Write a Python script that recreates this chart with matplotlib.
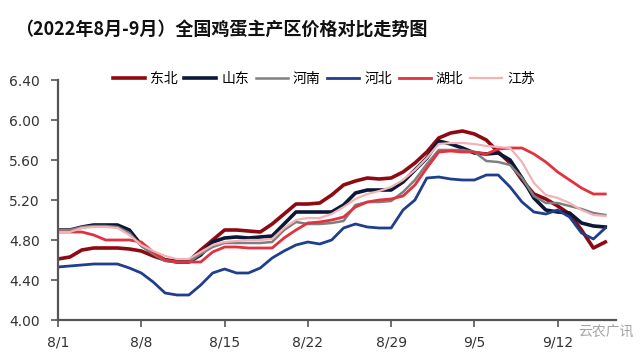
import matplotlib.pyplot as plt
import numpy as np

plt.rcParams['font.family'] = ['Noto Sans CJK SC', 'DejaVu Sans']

# daily prices, 8/1 .. 9/16 (yuan/jin)
dates = [f"8/{d}" for d in range(1, 32)] + [f"9/{d}" for d in range(1, 17)]

dongbei = [4.61, 4.63, 4.70, 4.72, 4.72, 4.72, 4.71, 4.69, 4.64, 4.60, 4.59, 4.59,
           4.70, 4.80, 4.90, 4.90, 4.89, 4.88, 4.96, 5.06, 5.16, 5.16, 5.17, 5.25,
           5.35, 5.39, 5.42, 5.41, 5.42, 5.48, 5.57, 5.68, 5.82, 5.87, 5.89, 5.86,
           5.80, 5.68, 5.57, 5.40, 5.26, 5.21, 5.14, 5.06, 4.90, 4.72, 4.78]
shandong = [4.90, 4.90, 4.93, 4.95, 4.95, 4.95, 4.90, 4.75, 4.67, 4.60, 4.58, 4.58,
            4.65, 4.78, 4.82, 4.83, 4.82, 4.83, 4.84, 4.96, 5.08, 5.08, 5.08, 5.08,
            5.15, 5.27, 5.30, 5.30, 5.30, 5.38, 5.50, 5.62, 5.79, 5.76, 5.72, 5.67,
            5.66, 5.67, 5.60, 5.42, 5.22, 5.10, 5.08, 5.07, 4.97, 4.94, 4.93]
henan = [4.90, 4.90, 4.93, 4.94, 4.94, 4.93, 4.87, 4.74, 4.66, 4.59, 4.58, 4.58,
         4.66, 4.73, 4.77, 4.77, 4.77, 4.77, 4.78, 4.90, 4.98, 4.96, 4.96, 4.97,
         4.99, 5.15, 5.18, 5.18, 5.19, 5.28, 5.40, 5.56, 5.70, 5.70, 5.70, 5.68,
         5.59, 5.58, 5.55, 5.42, 5.24, 5.17, 5.17, 5.14, 5.11, 5.07, 5.05]
hebei = [4.53, 4.54, 4.55, 4.56, 4.56, 4.56, 4.52, 4.47, 4.38, 4.27, 4.25, 4.25,
         4.35, 4.47, 4.51, 4.47, 4.47, 4.52, 4.62, 4.69, 4.75, 4.78, 4.76, 4.80,
         4.92, 4.96, 4.93, 4.92, 4.92, 5.10, 5.20, 5.42, 5.43, 5.41, 5.40, 5.40,
         5.45, 5.45, 5.33, 5.18, 5.08, 5.06, 5.10, 5.03, 4.87, 4.81, 4.92]
hubei = [4.88, 4.88, 4.88, 4.85, 4.80, 4.80, 4.80, 4.78, 4.68, 4.60, 4.58, 4.58,
         4.58, 4.68, 4.73, 4.73, 4.72, 4.72, 4.72, 4.82, 4.90, 4.97, 4.98, 5.00,
         5.03, 5.13, 5.18, 5.20, 5.21, 5.24, 5.35, 5.52, 5.68, 5.69, 5.68, 5.68,
         5.66, 5.71, 5.72, 5.72, 5.66, 5.58, 5.48, 5.40, 5.32, 5.26, 5.26]
jiangsu = [4.88, 4.88, 4.92, 4.93, 4.93, 4.92, 4.85, 4.75, 4.69, 4.64, 4.61, 4.61,
           4.68, 4.75, 4.78, 4.79, 4.80, 4.80, 4.81, 4.92, 5.00, 5.02, 5.02, 5.06,
           5.13, 5.21, 5.26, 5.29, 5.33, 5.40, 5.50, 5.62, 5.76, 5.77, 5.77, 5.76,
           5.74, 5.73, 5.72, 5.58, 5.37, 5.25, 5.22, 5.17, 5.10, 5.05, 5.04]

series = [
    ("东北", dongbei, "#8e0a12", 2.6),
    ("山东", shandong, "#0c1838", 2.6),
    ("河南", henan, "#7f7f7f", 1.8),
    ("河北", hebei, "#1f3f8c", 2.0),
    ("湖北", hubei, "#e2323f", 2.0),
    ("江苏", jiangsu, "#f2b3b6", 1.6),
]

x = np.arange(len(dates))

fig = plt.figure(figsize=(6.4, 3.61), dpi=100)
ax = fig.add_axes([58 / 640, 1 - 320 / 361, 558 / 640, 240 / 361])

for name, vals, color, lw in series:
    ax.plot(x, vals, color=color, lw=lw, label=name, solid_joinstyle="round")

ax.set_ylim(4.0, 6.4)
ax.set_yticks(np.arange(4.0, 6.41, 0.4))
ax.set_yticklabels([f"{v:.2f}" for v in np.arange(4.0, 6.41, 0.4)],
                   family="DejaVu Sans", fontsize=10, color="#333333")
ax.set_xlim(0, 46.9)
ticks = list(range(0, len(dates), 7))
ax.set_xticks(ticks)
ax.set_xticklabels([dates[i] for i in ticks], family="DejaVu Sans",
                   fontsize=10, color="#333333")

for side in ("top", "right"):
    ax.spines[side].set_visible(False)
for side in ("left", "bottom"):
    ax.spines[side].set_color("#555555")
    ax.spines[side].set_linewidth(1.6)
ax.tick_params(axis="both", direction="out", length=5, width=1.2, color="#555555")
ax.tick_params(axis="x", pad=6)
ax.tick_params(axis="y", pad=8)

fig.legend(loc="center", bbox_to_anchor=(324 / 640, 1 - 79 / 361), ncol=6,
           frameon=False, fontsize=10, handlelength=2.3, handletextpad=0.35,
           columnspacing=0.5)

fig.text(15 / 640, 1 - 30 / 361, "（2022年8月-9月）全国鸡蛋主产区价格对比走势图",
         fontsize=13, fontweight="bold", color="#111111", va="center", ha="left")

# watermark, kept just right of the last tick label
fig.text(634 / 640, 1 - 332 / 361, "云农广讯", fontsize=10, color="#9a9a9a",
         ha="right", va="center", alpha=0.9)

fig.savefig("out.png", dpi=100)
